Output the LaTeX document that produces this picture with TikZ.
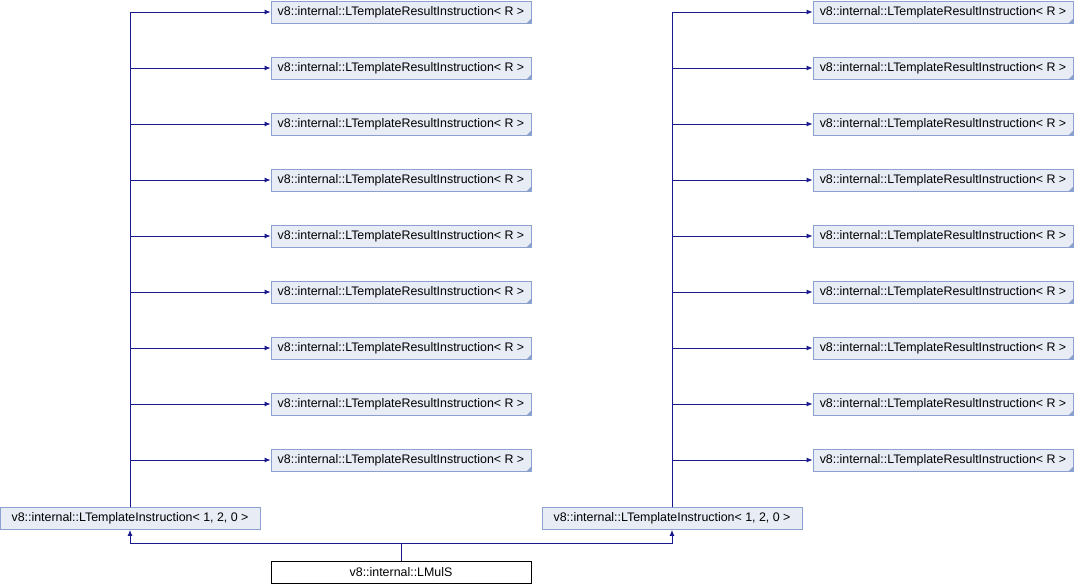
\documentclass[tikz,border=0pt]{standalone}
\usepackage{fontspec}
\setmainfont{Liberation Sans}
\usetikzlibrary{arrows.meta}
\definecolor{boxfill}{RGB}{232,236,245}
\definecolor{boxdraw}{RGB}{140,160,210}
\definecolor{edgecol}{RGB}{25,25,140}
\definecolor{corner}{RGB}{140,160,205}
\tikzset{
  cls/.style={draw=boxdraw, fill=boxfill, line width=0.8pt, minimum width=260pt, minimum height=22pt, inner sep=0pt, font=\fontsize{12.4}{14}\selectfont},
  mainbox/.style={draw=black, fill=white, line width=0.8pt, minimum width=260pt, minimum height=22pt, inner sep=0pt, font=\fontsize{12.4}{14}\selectfont},
  edge/.style={draw=edgecol, line width=0.9pt, -{Latex[length=6pt,width=5pt]}},
}
\begin{document}
\begin{tikzpicture}[x=1pt,y=-1pt]
\useasboundingbox (0,0) rectangle (1074,584);
\node[cls] (LI) at (130,518.5) {v8::internal::LTemplateInstruction< 1, 2, 0 >};
\node[cls] (RI) at (672,518.5) {v8::internal::LTemplateInstruction< 1, 2, 0 >};
\node[mainbox] (M) at (401,572) {v8::internal::LMulS};
\foreach \i in {0,...,8}{
  \node[cls] (L\i) at (401,12+56*\i) {v8::internal::LTemplateResultInstruction< R >};
  \fill[corner] (L\i.south east) -- ++(-5,0) -- ++(5,-5) -- cycle;
  \node[cls] (R\i) at (943,12+56*\i) {v8::internal::LTemplateResultInstruction< R >};
  \fill[corner] (R\i.south east) -- ++(-5,0) -- ++(5,-5) -- cycle;
  \draw[edge] (LI.north) |- (L\i.west);
  \draw[edge] (RI.north) |- (R\i.west);
}
\draw[edge] (M.north) -- ++(0,-17) -| (LI.south);
\draw[edge] (M.north) -- ++(0,-17) -| (RI.south);
\end{tikzpicture}
\end{document}
